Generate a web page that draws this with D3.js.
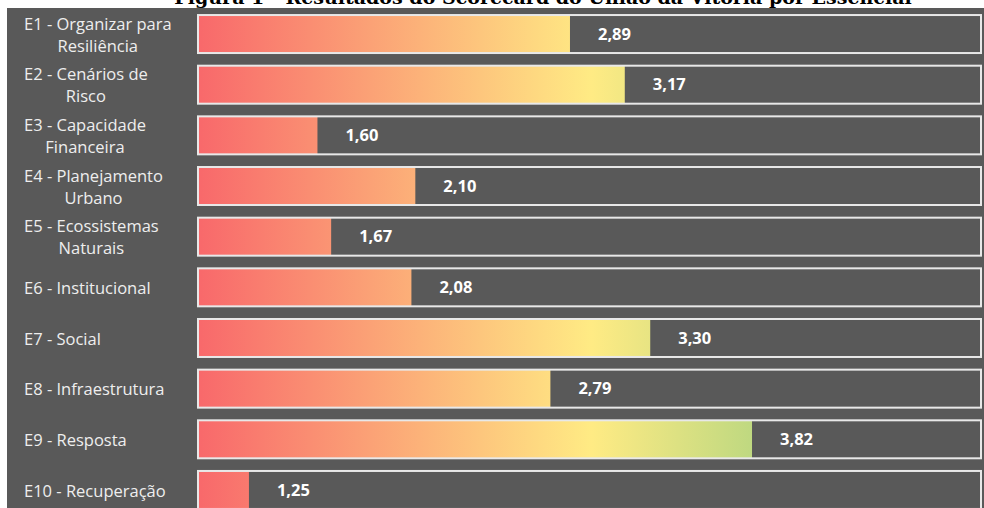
<!DOCTYPE html>
<html><head><meta charset="utf-8">
<script src="https://cdn.jsdelivr.net/npm/d3@7"></script>
<style>
html,body{margin:0;padding:0;background:#fff;}
svg{display:block;}
</style></head>
<body>
<svg id="c" width="984" height="508"></svg>
<script>
const title = "Figura 1 - Resultados do Scorecard do União da Vitória por Essencial";
const categories = [
  ["E1 - Organizar para", "Resiliência"],
  ["E2 - Cenários de", "Risco"],
  ["E3 - Capacidade", "Financeira"],
  ["E4 - Planejamento", "Urbano"],
  ["E5 - Ecossistemas", "Naturais"],
  ["E6 - Institucional"],
  ["E7 - Social"],
  ["E8 - Infraestrutura"],
  ["E9 - Resposta"],
  ["E10 - Recuperação"]
];
const values = [2.89, 3.17, 1.60, 2.10, 1.67, 2.08, 3.30, 2.79, 3.82, 1.25];
const valueLabels = ["2,89", "3,17", "1,60", "2,10", "1,67", "2,08", "3,30", "2,79", "3,82", "1,25"];
const scaleDomain = [1, 5];

const svg = d3.select("#c");
const W = 984, H = 508;

// title (partially cut at top)
svg.append("text").attr("x", 543).attr("y", 4)
  .attr("text-anchor", "middle")
  .attr("font-family", "DejaVu Serif").attr("font-weight", "bold")
  .attr("font-size", 19).attr("fill", "#000").text(title);

// panel background
svg.append("rect").attr("x", 7).attr("y", 8).attr("width", W - 7).attr("height", H - 8).attr("fill", "#595959");

const x = d3.scaleLinear().domain(scaleDomain).range([200, 983]);
const idx = d3.range(values.length);
const y = d3.scaleBand().domain(idx).range([8.7, 515.3]).paddingInner(0.25).paddingOuter(0.125);

const defs = svg.append("defs");
const grad = defs.append("linearGradient").attr("id", "g")
  .attr("gradientUnits", "userSpaceOnUse")
  .attr("x1", x(1)).attr("x2", x(5)).attr("y1", 0).attr("y2", 0);
grad.append("stop").attr("offset", "0%").attr("stop-color", "#F8696B");
grad.append("stop").attr("offset", "50%").attr("stop-color", "#FFEB84");
grad.append("stop").attr("offset", "100%").attr("stop-color", "#63BE7B");

const rows = svg.append("g").selectAll("g").data(idx).join("g");

// bar fills
rows.append("rect")
  .attr("x", x(1) - 1)
  .attr("y", i => y(i))
  .attr("width", i => x(values[i]) - x(1) + 1)
  .attr("height", y.bandwidth())
  .attr("fill", "url(#g)");

// track outlines
rows.append("rect")
  .attr("x", x(1) - 2)
  .attr("y", i => y(i))
  .attr("width", x(5) - x(1))
  .attr("height", y.bandwidth())
  .attr("fill", "none")
  .attr("stroke", "#e8e8e8").attr("stroke-width", 2);

// value labels
rows.append("text")
  .attr("x", i => x(values[i]) + 28)
  .attr("y", i => y(i) + y.bandwidth() / 2)
  .attr("dy", "0.35em")
  .attr("font-family", "Open Sans").attr("font-weight", "bold")
  .attr("font-size", 16.5).attr("fill", "#fff")
  .text(i => valueLabels[i]);

// category labels
rows.each(function(i) {
  const g = d3.select(this);
  const lines = categories[i];
  const cy = y(i) + y.bandwidth() / 2 + 1;
  const lh = 22;
  const t = g.append("text")
    .attr("font-family", "Open Sans").attr("font-size", 16.5)
    .attr("fill", "#eeeeee").attr("text-anchor", "middle");
  const spans = lines.map((l, k) => t.append("tspan")
    .attr("y", cy + (k - (lines.length - 1) / 2) * lh)
    .attr("dy", "0.35em").text(l));
  const w = spans[0].node().getComputedTextLength();
  spans.forEach(s => s.attr("x", 24 + w / 2));
});
</script>
</body></html>
